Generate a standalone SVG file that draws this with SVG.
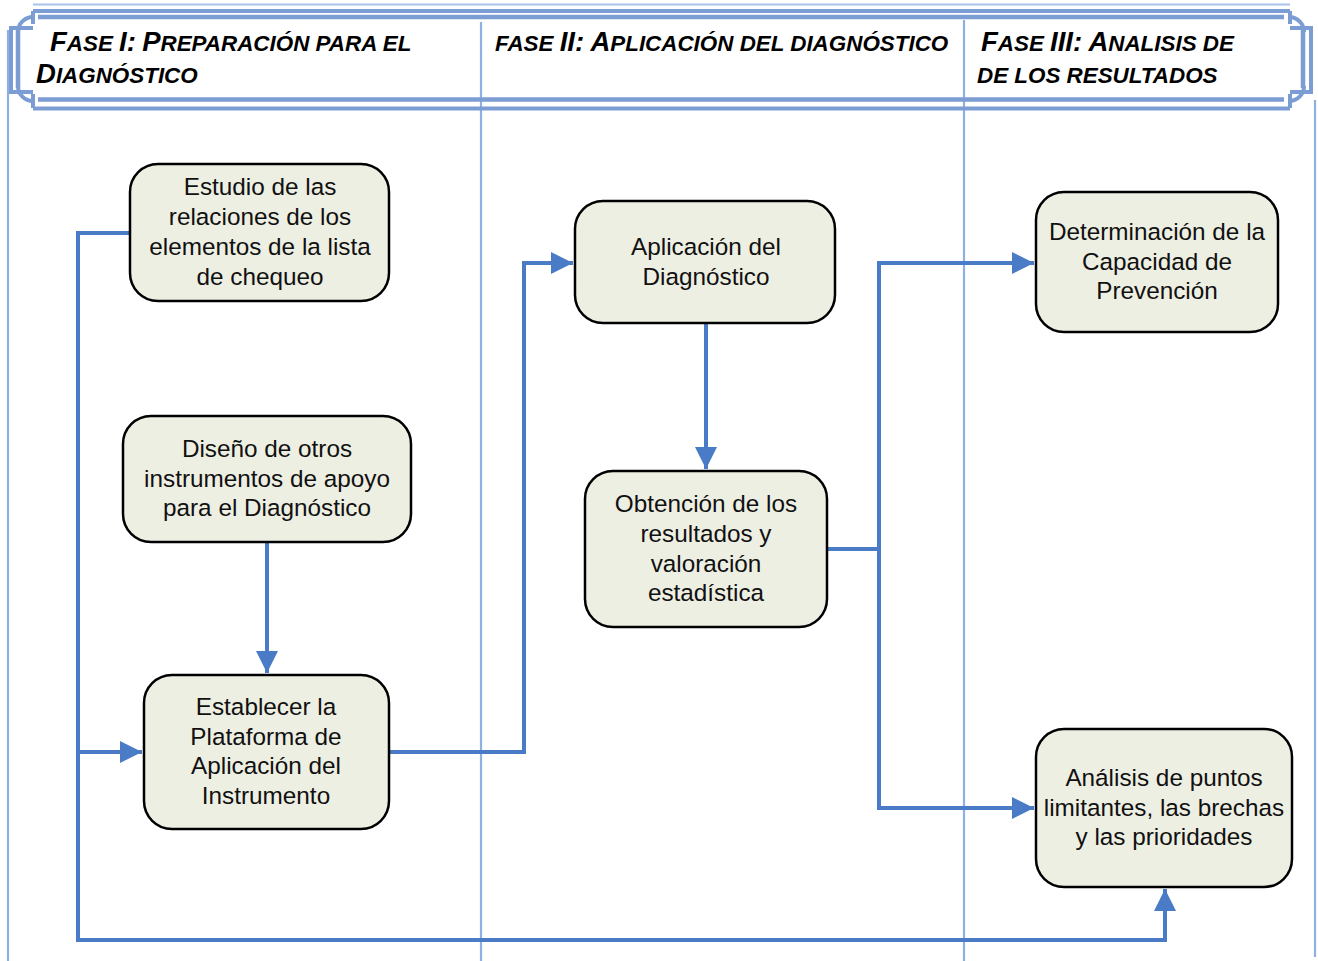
<svg xmlns="http://www.w3.org/2000/svg" width="1318" height="961" viewBox="0 0 1318 961">
<defs>
<style>
.lane{stroke:#8fb1e2;stroke-width:2.2;fill:none}
.band{stroke:#7b9dd4;fill:none}
.node{fill:#eeefe3;stroke:#000;stroke-width:2.5}
.nt{font-family:"Liberation Sans",Arial,sans-serif;font-size:24.3px;fill:#111;text-anchor:middle}
.hd{font-family:"Liberation Sans",Arial,sans-serif;font-weight:bold;font-style:italic;font-size:22.4px;fill:#000}
.big{font-size:27.5px}
.conn{stroke:#4a7bc6;stroke-width:4;fill:none}
</style>
<marker id="ah" markerUnits="userSpaceOnUse" markerWidth="22" markerHeight="22" refX="22" refY="11" orient="auto" viewBox="0 0 22 22">
<path d="M0,0 L22,11 L0,22 z" fill="#4a7bc6"/>
</marker>
<linearGradient id="bg" x1="0" y1="0" x2="1" y2="0">
<stop offset="0" stop-color="#8fb1e2" stop-opacity="0"/>
<stop offset="0.3" stop-color="#8fb1e2" stop-opacity="1"/>
</linearGradient>
</defs>
<rect width="1318" height="961" fill="#fff"/>
<g id="pool">
<path class="lane" d="M8 30 V961"/>
<path class="lane" d="M481 22 V961"/>
<path class="lane" d="M964 20 V961"/>
<path class="lane" d="M1315 100 V957"/>
<path d="M240 958 H1316" stroke="url(#bg)" stroke-width="2.5" fill="none"/>
</g>
<g id="header">
<path d="M33 4.5 H1290" stroke="#a9c3ea" stroke-width="2" fill="none"/>
<path class="band" stroke-width="4" d="M33 11 H1290 M33 108.5 H1290 M11 32 V86 M1311 32 V86"/>
<path class="band" stroke-width="4.5" d="M38 17 H1284 M38 99.5 H1284 M18 30 V88 M1303 30 V88"/>
<path class="band" stroke-width="4" d="M33 17 A15 15 0 0 0 18 32 M18 86 A15 15 0 0 0 33 101 M1289 17 A15 15 0 0 1 1304 32 M1304 86 A15 15 0 0 1 1289 101"/>
<path class="band" stroke-width="4" d="M33 11 V24 M11 32 V28 H33 M11 86 V92 H33 M33 108 V94 M1290 11 V24 M1311 32 V28 H1290 M1311 86 V92 H1290 M1290 108 V94"/>
<text class="hd" x="50" y="51"><tspan class="big">F</tspan>ASE <tspan class="big">I:</tspan> <tspan class="big">P</tspan>REPARACIÓN PARA EL</text>
<text class="hd" x="36" y="83"><tspan class="big">D</tspan>IAGNÓSTICO</text>
<text class="hd" x="495" y="51">FASE <tspan class="big">II:</tspan> <tspan class="big">A</tspan>PLICACIÓN DEL DIAGNÓSTICO</text>
<text class="hd" x="981" y="51"><tspan class="big">F</tspan>ASE <tspan class="big">III:</tspan> <tspan class="big">A</tspan>NALISIS DE</text>
<text class="hd" x="977" y="83">DE LOS RESULTADOS</text>
</g>
<g id="connectors">
<path class="conn" d="M130 233 H78 V940 H1165 V889" marker-end="url(#ah)"/>
<path class="conn" d="M78 752 H142" marker-end="url(#ah)"/>
<path class="conn" d="M267 542 V673" marker-end="url(#ah)"/>
<path class="conn" d="M389 752 H524 V263 H573" marker-end="url(#ah)"/>
<path class="conn" d="M706 323 V469" marker-end="url(#ah)"/>
<path class="conn" d="M827 549 H879 V263 H1034" marker-end="url(#ah)"/>
<path class="conn" d="M879 549 V808 H1034" marker-end="url(#ah)"/>
</g>
<g id="n1">
<rect class="node" x="130" y="164" width="259" height="137" rx="28"/>
<text class="nt" x="260" y="195">Estudio de las</text>
<text class="nt" x="260" y="225">relaciones de los</text>
<text class="nt" x="260" y="255">elementos de la lista</text>
<text class="nt" x="260" y="285">de chequeo</text>
</g>
<g id="n2">
<rect class="node" x="123" y="416" width="288" height="126" rx="28"/>
<text class="nt" x="267" y="457">Diseño de otros</text>
<text class="nt" x="267" y="487">instrumentos de apoyo</text>
<text class="nt" x="267" y="516">para el Diagnóstico</text>
</g>
<g id="n3">
<rect class="node" x="144" y="675" width="245" height="154" rx="28"/>
<text class="nt" x="266" y="715">Establecer la</text>
<text class="nt" x="266" y="745">Plataforma de</text>
<text class="nt" x="266" y="774">Aplicación del</text>
<text class="nt" x="266" y="804">Instrumento</text>
</g>
<g id="n4">
<rect class="node" x="575" y="201" width="260" height="122" rx="28"/>
<text class="nt" x="706" y="255">Aplicación del</text>
<text class="nt" x="706" y="285">Diagnóstico</text>
</g>
<g id="n5">
<rect class="node" x="585" y="471" width="242" height="156" rx="28"/>
<text class="nt" x="706" y="512">Obtención de los</text>
<text class="nt" x="706" y="542">resultados y</text>
<text class="nt" x="706" y="572">valoración</text>
<text class="nt" x="706" y="601">estadística</text>
</g>
<g id="n6">
<rect class="node" x="1036" y="192" width="242" height="140" rx="28"/>
<text class="nt" x="1157" y="240">Determinación de la</text>
<text class="nt" x="1157" y="270">Capacidad de</text>
<text class="nt" x="1157" y="299">Prevención</text>
</g>
<g id="n7">
<rect class="node" x="1036" y="729" width="256" height="158" rx="28"/>
<text class="nt" x="1164" y="786">Análisis de puntos</text>
<text class="nt" x="1164" y="816">limitantes, las brechas</text>
<text class="nt" x="1164" y="845">y las prioridades</text>
</g>
</svg>
